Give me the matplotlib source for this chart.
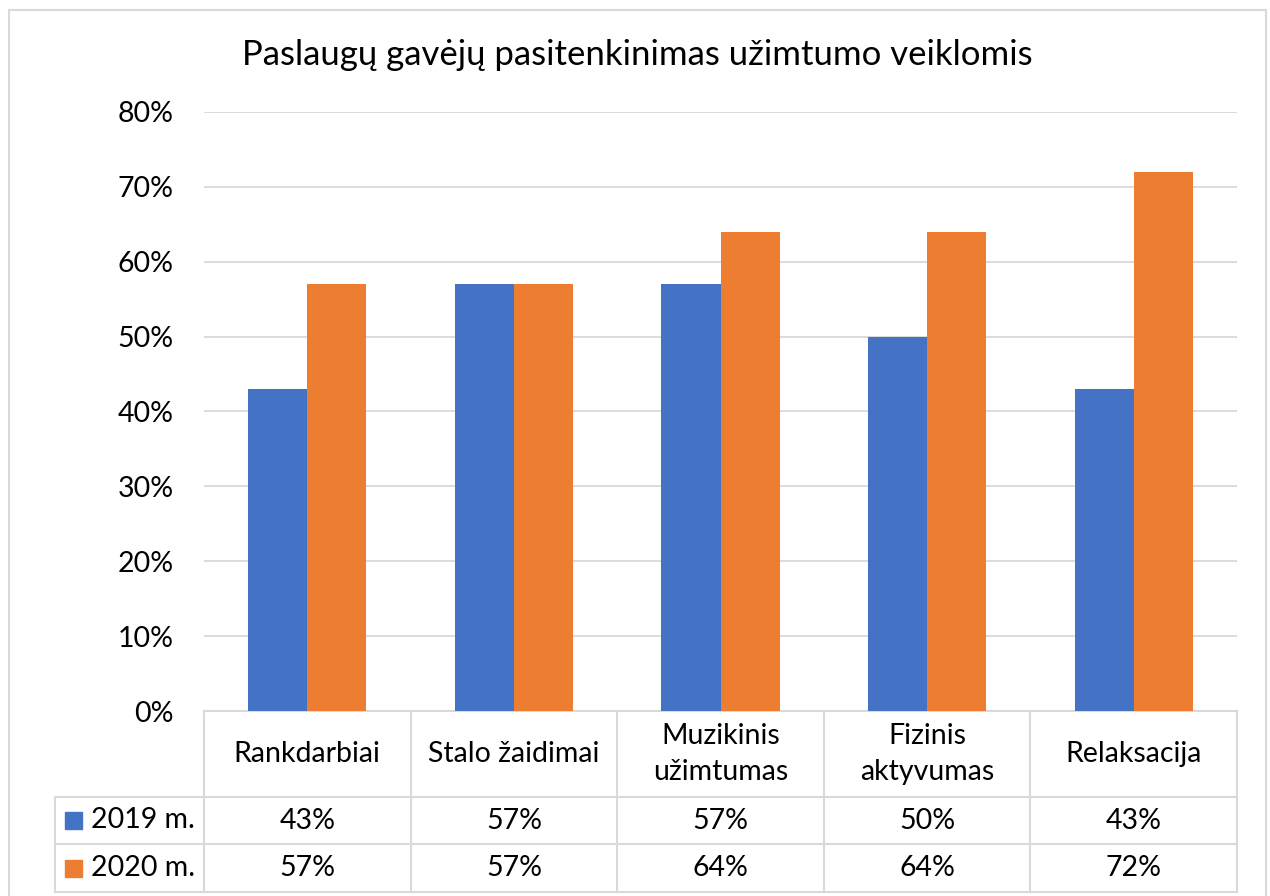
import numpy as np
import matplotlib.pyplot as plt
from matplotlib.patches import Rectangle
from matplotlib.lines import Line2D

# --------------------------------------------------------------------------------------------

title = 'Paslaugų gavėjų pasitenkinimas užimtumo veiklomis'
categories = ['Rankdarbiai', 'Stalo žaidimai', 'Muzikinis\nužimtumas', 'Fizinis\naktyvumas', 'Relaksacija']
series_names = ['2019 m.', '2020 m.']
values_2019 = [43, 57, 57, 50, 43]
values_2020 = [57, 57, 64, 64, 72]
yticks = [0, 10, 20, 30, 40, 50, 60, 70, 80]

colors = ['#4472C4', '#ED7D31']
grid_col = '#d9d9d9'
W, H = 1270, 896
fs = 20.5

plt.rcParams['font.family'] = ['Lato', 'DejaVu Sans']

fig = plt.figure(figsize=(W / 100, H / 100), dpi=100)
ax = fig.add_axes([204 / W, 1 - 711 / H, (1237 - 204) / W, (711 - 112) / H])

x = np.arange(len(categories))
bw = 0.286
series = [values_2019, values_2020]
for i, vals in enumerate(series):
    ax.bar(x + (i - 0.5) * bw, vals, bw, color=colors[i], zorder=3)

ax.set_xlim(-0.5, len(categories) - 0.5)
ax.set_ylim(0, 80)
ax.set_yticks(yticks)
ax.set_yticklabels([f'{t}%' for t in yticks], fontsize=fs)
ax.set_xticks([])
ax.tick_params(axis='y', length=0, pad=22)
ax.grid(axis='y', color=grid_col, linewidth=1.3, zorder=0)
for s in ax.spines.values():
    s.set_visible(False)

fig.text(637 / W, 1 - 55 / H, title, fontsize=25, ha='center', va='center')

# data table below the axes
trans = ax.get_xaxis_transform()
ax_h = (711 - 112)
y_head = -(797 - 711) / ax_h
y_r1 = -(844 - 711) / ax_h
y_r2 = -(892 - 711) / ax_h
x_leg = -0.5 - (204 - 55) / 206.6

lk = dict(color=grid_col, linewidth=1.5, transform=trans, clip_on=False)
ax.add_line(Line2D([-0.5, len(categories) - 0.5], [0, 0], **lk))
for yy in [y_head, y_r1, y_r2]:
    ax.add_line(Line2D([x_leg, len(categories) - 0.5], [yy, yy], **lk))
for xb in np.arange(len(categories) + 1) - 0.5:
    ax.add_line(Line2D([xb, xb], [0, y_r2], **lk))
ax.add_line(Line2D([x_leg, x_leg], [y_head, y_r2], **lk))

for j, c in enumerate(categories):
    ax.text(j, y_head / 2, c, transform=trans, ha='center', va='center',
            fontsize=fs, linespacing=1.5)
rows = [(y_head + y_r1) / 2, (y_r1 + y_r2) / 2]
for i, vals in enumerate(series):
    for j, v in enumerate(vals):
        ax.text(j, rows[i], f'{v}%', transform=trans, ha='center', va='center', fontsize=fs)
    fy = 1 - (711 - rows[i] * ax_h) / H
    fig.patches.append(Rectangle((65 / W, fy - 8.5 / H), 17 / W, 17 / H,
                                 color=colors[i], transform=fig.transFigure))
    fig.text(91 / W, fy, series_names[i], fontsize=fs, ha='left', va='center')

# outer chart border
fig.patches.append(Rectangle((9 / W, -0.05), (1266 - 9) / W, 1.05 - 10 / H, fill=False,
                             edgecolor=grid_col, linewidth=1.5, transform=fig.transFigure))

fig.savefig('out.png', dpi=100)
